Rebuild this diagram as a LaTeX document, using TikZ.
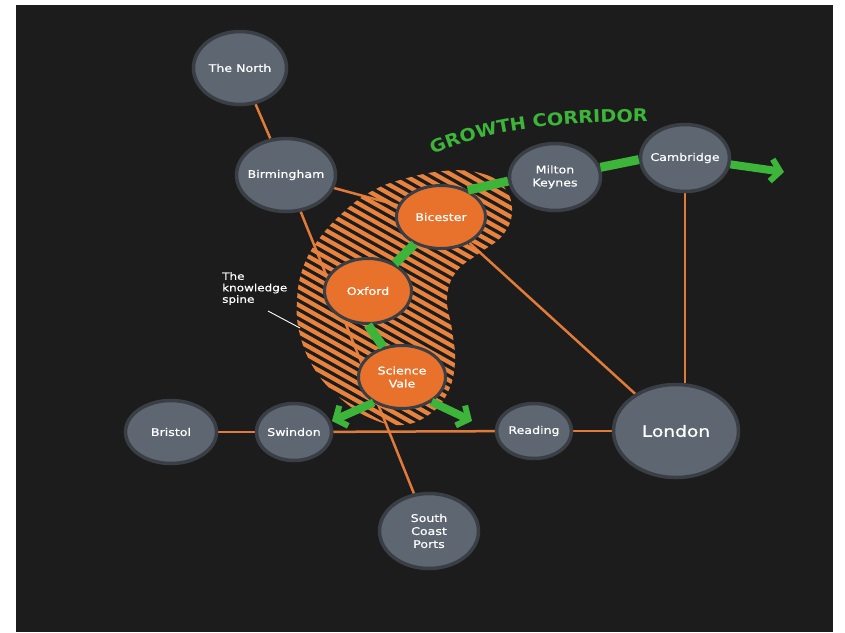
\documentclass[tikz,border=0pt]{standalone}
\usepackage{fontspec}
\usetikzlibrary{shapes.geometric,arrows.meta,decorations.text}
\newfontfamily\cityfont[FakeStretch=1.2,FakeBold=0.6]{DejaVu Sans}
\newfontfamily\growfont[FakeStretch=1.1]{DejaVu Sans}
\definecolor{bgdark}{HTML}{1C1C1C}
\definecolor{nodegrey}{HTML}{5E6672}
\definecolor{nodeedge}{HTML}{3A3E45}
\definecolor{hubor}{HTML}{E8712B}
\definecolor{lineor}{HTML}{E07B39}
\definecolor{hatchor}{HTML}{E8823F}
\definecolor{growgreen}{HTML}{3DB53A}
\pgfdeclarelayer{bglayer}
\pgfdeclarelayer{linelayer}
\pgfsetlayers{bglayer,linelayer,main}
\tikzset{
  city/.style={ellipse, draw=nodeedge, line width=3.5pt, fill=nodegrey, inner sep=0pt},
  hub/.style={ellipse, draw=nodeedge, line width=3pt, fill=hubor, inner sep=0pt},
  sz/.style 2 args={minimum width=#1pt-3pt, minimum height=#2pt-3pt},
  txt/.style={text=white, font=\cityfont\fontsize{10.5}{13}\selectfont, align=center, inner sep=0pt},
  bigtxt/.style={text=white, font=\cityfont\fontsize{15.5}{18}\selectfont, inner sep=0pt},
  oline/.style={draw=lineor, line width=2.5pt},
  hatchline/.style={draw=hatchor, line width=4.3pt},
  gline/.style={draw=growgreen, line width=9pt},
  garrow/.style={draw=growgreen, line width=8pt, -{Straight Barb[length=9pt,width=22pt,line width=6pt]}},
  leader/.style={draw=white, line width=0.9pt}
}
\begin{document}
\begin{tikzpicture}[x=1pt,y=-1pt]
\useasboundingbox (0,0) rectangle (845,632);
\begin{pgfonlayer}{bglayer}
  \fill[white] (0,0) rectangle (845,632);
  \fill[bgdark] (16,5) rectangle (833,632);
\end{pgfonlayer}

% grey city nodes
\node[city, sz={96}{76}, label={[txt]center:The North}] (north) at (240,68) {};
\node[city, sz={102}{76}, label={[txt]center:Birmingham}] (bham) at (286,175) {};
\node[city, sz={94}{70}, label={[txt]center:Milton\\Keynes}] (mk) at (555,177) {};
\node[city, sz={92}{70}, label={[txt]center:Cambridge}] (camb) at (685,158) {};
\node[city, sz={94}{66}, label={[txt]center:Bristol}] (bristol) at (171,432) {};
\node[city, sz={78}{60}, label={[txt]center:Swindon}] (swin) at (294,432) {};
\node[city, sz={78}{58}, label={[txt]center:Reading}] (read) at (534,431) {};
\node[city, sz={128}{96}, label={[bigtxt]center:London}] (lon) at (676,431) {};
\node[city, sz={102}{78}, label={[txt]center:South\\Coast\\Ports}] (scp) at (429,531) {};

% orange hub nodes
\node[hub, sz={92}{66}, label={[txt]center:Bicester}] (bic) at (441,217) {};
\node[hub, sz={90}{68}, label={[txt]center:Oxford}] (ox) at (368,291) {};
\node[hub, sz={90}{66}, label={[txt]center:Science\\Vale}] (sv) at (402,377) {};

% knowledge spine label
\node[txt, align=left, anchor=north west, font=\cityfont\fontsize{10}{11.5}\selectfont] (spine) at (222,272) {The\\knowledge\\spine};
\coordinate (spinestart) at (268,311);
\coordinate (spineend) at (300,328);

\begin{pgfonlayer}{linelayer}
  \draw[oline] (north) -- (bham);
  \draw[oline] (bham) -- (bic);
  \draw[oline] (bham) -- (scp);
  \draw[oline] (bic) -- (lon);
  \draw[oline] (camb) -- (camb |- lon.north);
  \draw[oline] (bristol) -- (swin);
  \draw[oline] (swin) -- (read);
  \draw[oline] (read) -- (lon);
  \begin{scope}
    \clip plot[smooth cycle, tension=0.7] coordinates {
      (400,180) (443,171) (480,173) (504,187) (512,212) (502,236) (478,254)
      (456,272) (447,298) (452,330) (455,362) (448,392) (430,414) (402,425)
      (370,418) (340,398) (315,370) (300,335) (297,300) (304,265) (322,235)
      (348,208) (372,191)};
    \foreach \k in {0,...,50} {
      \draw[hatchline] (270,{10+9*\k}) -- ++(260,{0.56*260});
    }
  \end{scope}
  \draw[leader] (spinestart) -- (spineend);
\end{pgfonlayer}

% green growth links
\coordinate (growthtip) at (784,172);
\coordinate (svltip) at (332,421);
\coordinate (svrtip) at (472,421);
\draw[gline] (bic) -- (ox);
\draw[gline] (ox.south) -- (sv.122);
\draw[gline] (bic.45) -- (mk.185);
\draw[gline] (mk.12) -- (camb.182);
\draw[garrow] (camb.-8) -- (growthtip);
\draw[garrow] (sv.222) -- (svltip);
\draw[garrow] (sv.-40) -- (svrtip);

% growth corridor title
\path[decorate, decoration={text along path,
  text={|\growfont\bfseries\fontsize{17.5}{17.5}\selectfont\color{growgreen}|GROWTH CORRIDOR},
  text align=center}]
  (433,155) .. controls (480,131) and (560,121) .. (648,122);
\end{tikzpicture}
\end{document}
